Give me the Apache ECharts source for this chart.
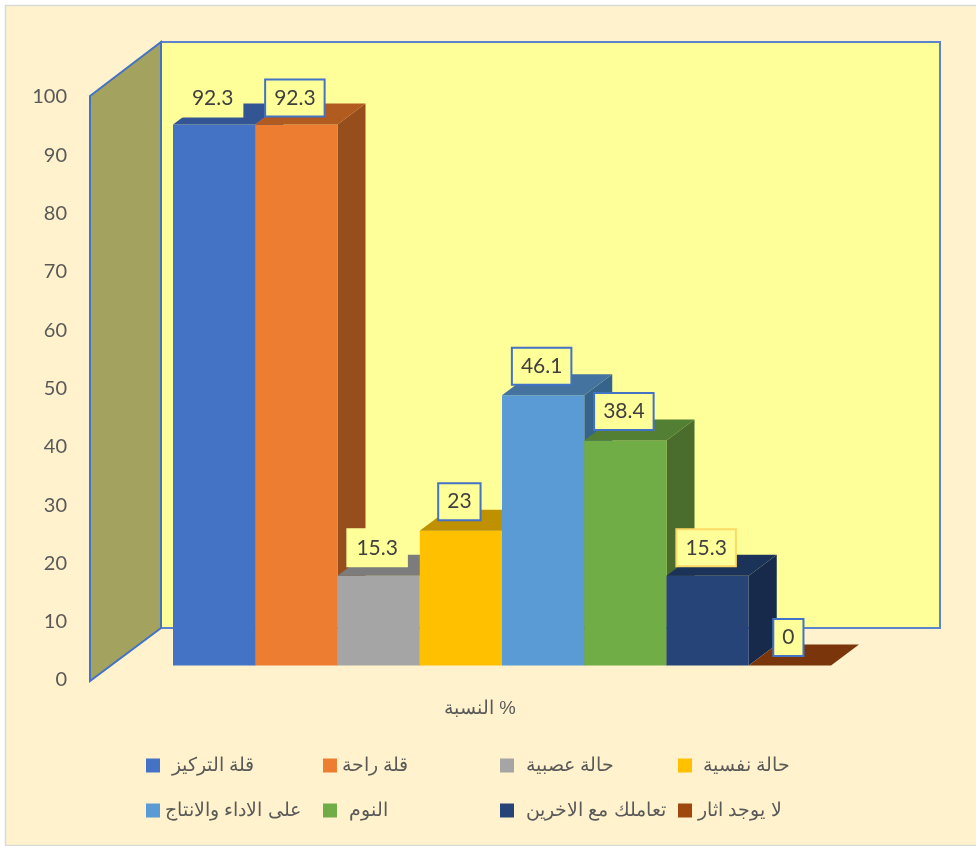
<!DOCTYPE html>
<html><head><meta charset="utf-8">
<style>html,body{margin:0;padding:0;background:#fff}#c{width:976px;height:846px}</style>
<script src="https://cdn.jsdelivr.net/npm/echarts@6/dist/echarts.min.js"></script>
</head><body><div id="c"></div>
<script>
const axisCategory = ['النسبة %'];
const yTicksMax = 100;
const yTickStep = 10;
const seriesNames = ['قلة التركيز','قلة راحة','حالة عصبية','حالة نفسية','على الاداء والانتاج','النوم','تعاملك مع الاخرين','لا يوجد اثار'];
const seriesValues = [92.3,92.3,15.3,23,46.1,38.4,15.3,0];
const frontColors = ['#4472C4','#ED7D31','#A5A5A5','#FFC000','#5B9BD5','#70AD47','#264478','#7A350B'];
const legendColors = ['#4472C4','#ED7D31','#A5A5A5','#FFC000','#5B9BD5','#70AD47','#264478','#9E480E'];
const topColors = ['#335593','#B15B20','#7C7C7C','#BF9000','#44739F','#537F35','#1C3359','#7A350B'];
const sideColors = ['#2A4A80','#954E1C','#6C6C6C','#A67D00','#36638C','#4A6D2D','#172A4C','#6B2E09'];
const labelBorders = ['#FFFF99','#4472C4','#FFFF99','#4472C4','#4472C4','#4472C4','#FFD966','#4472C4'];
const labelLift = [26.5,26.5,28,29,29,29,28,28];
const legendLeft = [146,323,500,678,146,323,500,678];
const legendTop = [756,756,756,756,801,801,801,801];
const legendPad = [7,0,7,6,0,7,7,1];

const DEPTH_X = 28, DEPTH_Y = 21, WALL_X = 71, WALL_Y = 54, WALL_W = 779;

function renderWalls(params, api) {
  const c = params.coordSys, x = c.x, y = c.y - 1, h = c.height + 2;
  const border = {stroke:'#4472C4', lineWidth:2, lineJoin:'miter'};
  return {type:'group', children:[
    {type:'rect', shape:{x:x+WALL_X, y:y-WALL_Y, width:WALL_W, height:h+1},
      style:Object.assign({fill:'#FFFF99'}, border, {stroke:'#5B84CC'})},
    {type:'polygon', shape:{points:[[x,y],[x+WALL_X,y-WALL_Y],[x+WALL_X,y-WALL_Y+h+1],[x,y+h]]},
      style:Object.assign({fill:'#A3A35F'}, border)}
  ]};
}
function renderBar(idx) {
  return function (params, api) {
    const i = api.value(0), v = api.value(1);
    const p = api.coord([i, v]), b = api.coord([i, 0]);
    const w = api.size([1, 0])[0];
    const x0 = p[0] - w/2, x1 = p[0] + w/2, t = p[1], bot = b[1];
    const children = [];
    if (v > 0) {
      children.push({type:'polygon', shape:{points:[[x1,t],[x1+DEPTH_X,t-DEPTH_Y],[x1+DEPTH_X,bot-DEPTH_Y],[x1,bot]]}, style:{fill:sideColors[idx]}});
      children.push({type:'rect', shape:{x:x0,y:t,width:w,height:bot-t}, style:{fill:frontColors[idx]}});
    }
    children.push({type:'polygon', shape:{points:[[x0,t],[x1,t],[x1+DEPTH_X,t-DEPTH_Y],[x0+DEPTH_X,t-DEPTH_Y]]}, style:{fill:topColors[idx]}});
    children.push({type:'text', style:{text:String(v), x:p[0]-1.5, y:t-labelLift[idx], align:'center', verticalAlign:'middle',
      fill:'#404040', font:'21px Lato, sans-serif', backgroundColor:'#FFFF99', borderColor:labelBorders[idx], borderWidth:2, padding:[7,8,7,8]}});
    return {type:'group', children};
  };
}
const barSeries = seriesNames.map((name, i) => ({
  name, type:'custom', xAxisIndex:1, yAxisIndex:1, coordinateSystem:'cartesian2d', clip:false,
  data:[[i, seriesValues[i]]], encode:{x:0,y:1}, itemStyle:{color:legendColors[i]}, renderItem:renderBar(i), z:5+i, silent:true
}));
const legends = seriesNames.map((name, i) => ({
  data:[name], left:legendLeft[i], top:legendTop[i], itemWidth:14, itemHeight:14, icon:'rect', padding:0, selectedMode:false,
  textStyle:{fontFamily:'"Liberation Sans", Arial, sans-serif', fontSize:19, color:'#595959', padding:[0,0,10,legendPad[i]]}
}));
const chart = echarts.init(document.getElementById('c'), null, {renderer:'canvas'});
chart.setOption({
  animation:false,
  backgroundColor:'#FFFFFF',
  graphic:[{type:'rect', z:-10, shape:{x:5.5,y:5.5,width:975,height:840}, style:{fill:'#FFF2CC', stroke:'#D9D9D9', lineWidth:1.5}}],
  legend:legends,
  grid:[
    {left:90, top:97, width:780, height:583},
    {left:173, top:79.5, width:658, height:586}
  ],
  xAxis:[
    {type:'category', gridIndex:0, data:axisCategory, axisLine:{show:false}, axisTick:{show:false},
      axisLabel:{margin:19, color:'#595959', fontSize:18.5, fontFamily:'"Liberation Sans", Arial, sans-serif'}},
    {type:'category', gridIndex:1, data:seriesNames, show:false}
  ],
  yAxis:[
    {type:'value', gridIndex:0, min:0, max:yTicksMax, interval:yTickStep, axisLine:{show:false}, axisTick:{show:false}, splitLine:{show:false},
      axisLabel:{margin:23, color:'#595959', fontSize:20, fontFamily:'Lato, sans-serif'}},
    {type:'value', gridIndex:1, min:0, max:yTicksMax, interval:yTickStep, show:false, splitLine:{show:false}}
  ],
  series:[{type:'custom', name:'walls', xAxisIndex:0, yAxisIndex:0, data:[[0,0]], renderItem:renderWalls, clip:false, silent:true, z:1}].concat(barSeries)
});
</script></body></html>
